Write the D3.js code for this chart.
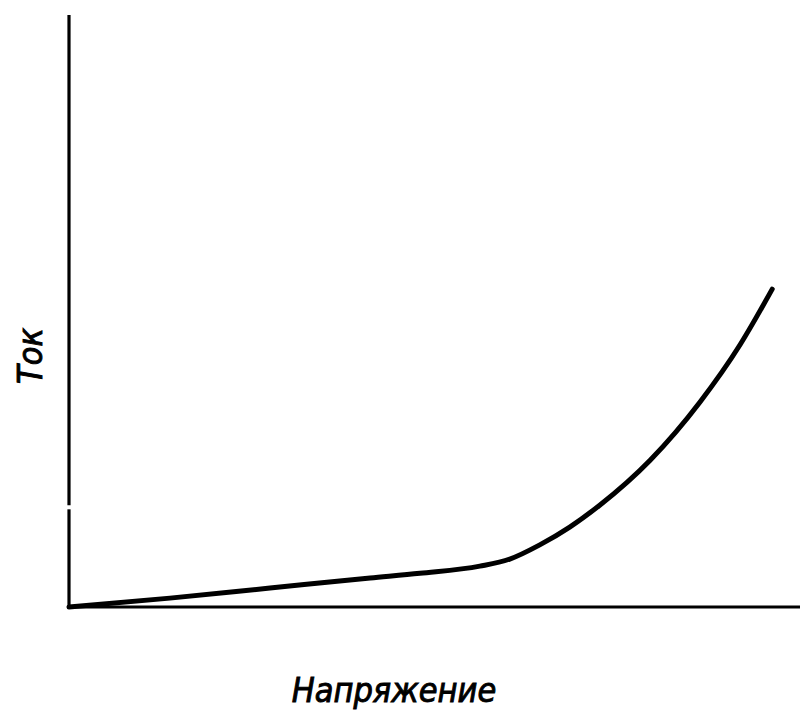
<!DOCTYPE html>
<html>
<head>
<meta charset="utf-8">
<script src="https://cdn.jsdelivr.net/npm/d3@7"></script>
<style>
  html, body { margin: 0; padding: 0; background: #fff; }
  svg { display: block; }
  .lbl { font-family: "DejaVu Sans Condensed", "DejaVu Sans", sans-serif; font-style: italic; font-weight: normal; fill: #000; stroke: #000; stroke-width: 0.9; }
</style>
</head>
<body>
<svg id="chart" width="800" height="710"></svg>
<script>
// Current–voltage characteristic (arbitrary units)
const voltage = [0, 13.8, 27.5, 41.2, 48.0, 56.2, 60.3, 64.4, 68.5, 72.6, 79.5, 86.3, 91.8, 96.2];
const current = [0, 1.5, 3.2, 4.9, 5.7, 6.9, 8.1, 10.5, 13.5, 17.2, 24.8, 34.6, 44.3, 53.7];
const xLabel = "Напряжение";
const yLabel = "Ток";

const svg = d3.select("#chart");
const x = d3.scaleLinear().domain([0, 100]).range([69, 800]);
const y = d3.scaleLinear().domain([0, 100]).range([607, 15]);

// vertical axis, drawn in two pieces with a hairline break
svg.append("line")
  .attr("x1", x(0)).attr("x2", x(0))
  .attr("y1", y(0) + 1).attr("y2", y(16.5))
  .attr("stroke", "#000").attr("stroke-width", 3.2);
svg.append("line")
  .attr("x1", x(0)).attr("x2", x(0))
  .attr("y1", y(17.2)).attr("y2", y(100))
  .attr("stroke", "#000").attr("stroke-width", 3.2);
// horizontal axis
svg.append("line")
  .attr("x1", x(0) - 1).attr("x2", x(100))
  .attr("y1", y(0)).attr("y2", y(0))
  .attr("stroke", "#000").attr("stroke-width", 3.2);

const pts = voltage.map((v, i) => [v, current[i]]);
const line = d3.line()
  .x(d => x(d[0]))
  .y(d => y(d[1]))
  .curve(d3.curveMonotoneX);

svg.append("path")
  .datum(pts)
  .attr("d", line)
  .attr("fill", "none")
  .attr("stroke", "#000")
  .attr("stroke-width", 5)
  .attr("stroke-linecap", "round")
  .attr("stroke-linejoin", "round");

svg.append("text")
  .attr("class", "lbl")
  .attr("x", 394).attr("y", 702)
  .attr("text-anchor", "middle")
  .attr("font-size", 34)
  .text(xLabel);

svg.append("text")
  .attr("class", "lbl")
  .attr("transform", "translate(42,356) rotate(-90)")
  .attr("text-anchor", "middle")
  .attr("font-size", 34)
  .text(yLabel);
</script>
</body>
</html>
